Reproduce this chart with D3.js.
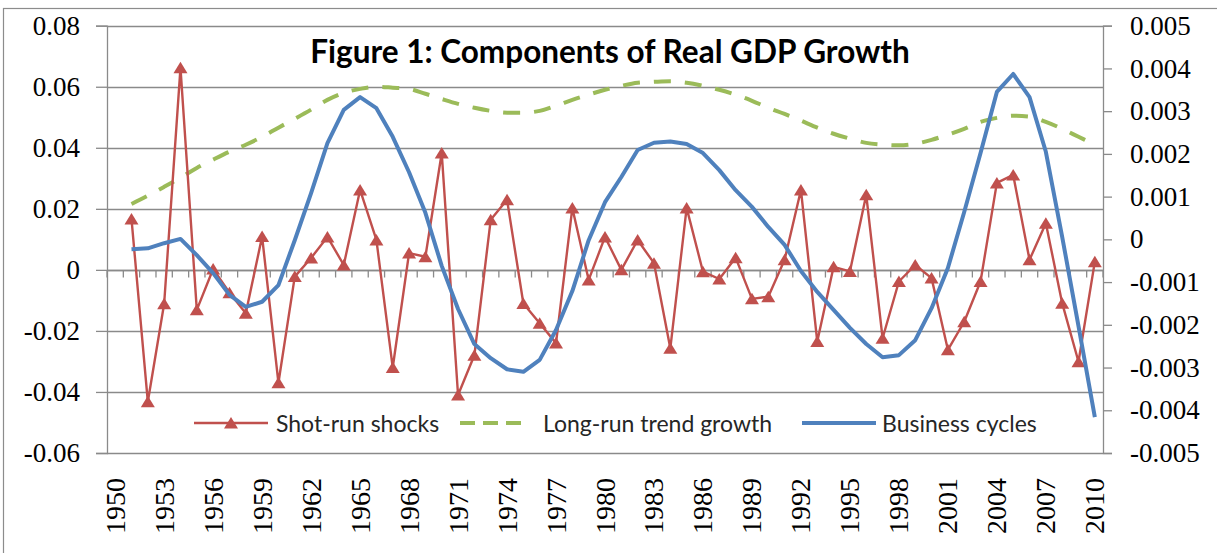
<!DOCTYPE html>
<html>
<head>
<meta charset="utf-8">
<script src="https://cdn.jsdelivr.net/npm/d3@7"></script>
<style>
  html, body { margin: 0; padding: 0; background: #fff; }
  svg { display: block; }
</style>
</head>
<body>
<svg id="chart" width="1217" height="553"></svg>
<script>
// ---------------- DATA ----------------
const categories = ["1950","1951","1952","1953","1954","1955","1956","1957","1958","1959",
  "1960","1961","1962","1963","1964","1965","1966","1967","1968","1969",
  "1970","1971","1972","1973","1974","1975","1976","1977","1978","1979",
  "1980","1981","1982","1983","1984","1985","1986","1987","1988","1989",
  "1990","1991","1992","1993","1994","1995","1996","1997","1998","1999",
  "2000","2001","2002","2003","2004","2005","2006","2007","2008","2009","2010"];

// series start in 1951
const seriesYears = categories.slice(1);

const shortRunShocks = [0.0167, -0.0432, -0.0111, 0.0662, -0.0131, 0.0003, -0.0075, -0.0142, 0.0109, -0.037,
  -0.0022, 0.0039, 0.0108, 0.0016, 0.0262, 0.0098, -0.032, 0.0055, 0.0043, 0.0383,
  -0.041, -0.028, 0.0164, 0.023, -0.011, -0.0175, -0.024, 0.0203, -0.0033, 0.0108,
  0.0, 0.0098, 0.0022, -0.0257, 0.0203, -0.0006, -0.003, 0.004, -0.0095, -0.0088,
  0.0033, 0.0262, -0.0235, 0.001, -0.0005, 0.0246, -0.0224, -0.0038, 0.0016, -0.0027,
  -0.0262, -0.017, -0.0038, 0.0285, 0.0311, 0.0033, 0.0153, -0.0109, -0.0301, 0.0027];

const longRunTrend = [0.0216, 0.0243, 0.0272, 0.0302, 0.0334, 0.0361, 0.0387, 0.041, 0.0436, 0.0466,
  0.0495, 0.0525, 0.0557, 0.058, 0.0593, 0.06, 0.0597, 0.0593, 0.0577, 0.056,
  0.0544, 0.0531, 0.0521, 0.0515, 0.0515, 0.0521, 0.0538, 0.0557, 0.0574, 0.059,
  0.0603, 0.0613, 0.0616, 0.0618, 0.0613, 0.0603, 0.059, 0.0574, 0.0554, 0.0531,
  0.0511, 0.0489, 0.0466, 0.0446, 0.043, 0.0416, 0.041, 0.0408, 0.0413, 0.0426,
  0.0443, 0.0462, 0.0485, 0.0498, 0.0505, 0.0502, 0.0485, 0.0462, 0.0436, 0.041];

const businessCycles = [-0.00023, -0.00021, -0.00009, 0.00001, -0.00037, -0.00079, -0.0013, -0.00158, -0.00146, -0.00107,
  -0.00002, 0.00108, 0.00225, 0.00303, 0.00333, 0.00307, 0.0024, 0.00157, 0.00062, -0.00062,
  -0.00163, -0.00245, -0.00278, -0.00304, -0.0031, -0.00282, -0.00212, -0.00121, -0.00002, 0.00087,
  0.00146, 0.00209, 0.00226, 0.00229, 0.00223, 0.00202, 0.00162, 0.00115, 0.00076, 0.00029,
  -0.00013, -0.00074, -0.00123, -0.00165, -0.00207, -0.00245, -0.00276, -0.00271, -0.00236, -0.00161,
  -0.00067, 0.00064, 0.00202, 0.00345, 0.00387, 0.00333, 0.00205, 0.00006, -0.00203, -0.00416];

const leftTicks = [-0.06, -0.04, -0.02, 0, 0.02, 0.04, 0.06, 0.08];
const rightTicks = [-0.005, -0.004, -0.003, -0.002, -0.001, 0, 0.001, 0.002, 0.003, 0.004, 0.005];
const xLabelYears = ["1950","1953","1956","1959","1962","1965","1968","1971","1974","1977","1980",
  "1983","1986","1989","1992","1995","1998","2001","2004","2007","2010"];

const titleText = "Figure 1: Components of Real GDP Growth";
const legendLabels = ["Shot-run shocks", "Long-run trend growth", "Business cycles"];

// ---------------- LAYOUT ----------------
const svg = d3.select("#chart");
const L = 107, R = 1103, T = 25.7, B = 453;
const gridColor = "#8a8a8a";
const red = "#c0504d", green = "#9bbb59", blue = "#4f81bd";
const serif = "'Liberation Serif', 'Times New Roman', serif";
const sans = "Lato, 'Open Sans', sans-serif";

// outer chart border
svg.append("rect").attr("x", 3.5).attr("y", 8.5).attr("width", 1400).attr("height", 700)
  .attr("fill", "#fff").attr("stroke", "#8c8c8c").attr("stroke-width", 1.2);

const x = d3.scaleBand().domain(categories).range([L, R]).padding(0);
const yL = d3.scaleLinear().domain([-0.06, 0.08]).range([B, T]);
const yR = d3.scaleLinear().domain([-0.005, 0.005]).range([B, T]);
const cx = c => x(c) + x.bandwidth() / 2;

// gridlines
svg.append("g").selectAll("line").data(leftTicks).join("line")
  .attr("x1", L).attr("x2", R)
  .attr("y1", d => Math.round(yL(d)) + 0.5).attr("y2", d => Math.round(yL(d)) + 0.5)
  .attr("stroke", gridColor).attr("stroke-width", 1.3);

// left axis
const axL = svg.append("g").attr("transform", `translate(${L},0)`)
  .call(d3.axisLeft(yL).tickValues(leftTicks).tickSize(11).tickPadding(16)
    .tickFormat(d => d === 0 ? "0" : d.toFixed(2)));
axL.select(".domain").attr("stroke", gridColor).attr("stroke-width", 1.3);
axL.selectAll(".tick line").attr("stroke", gridColor).attr("stroke-width", 1.3);
axL.selectAll(".tick text").attr("font-family", serif).attr("font-size", 27).attr("fill", "#000");

// right axis
const axR = svg.append("g").attr("transform", `translate(${R},0)`)
  .call(d3.axisRight(yR).tickValues(rightTicks).tickSize(9).tickPadding(18)
    .tickFormat(d => Math.abs(d) < 1e-9 ? "0" : d.toFixed(3)));
axR.select(".domain").attr("stroke", gridColor).attr("stroke-width", 1.3);
axR.selectAll(".tick line").attr("stroke", gridColor).attr("stroke-width", 1.3);
axR.selectAll(".tick text").attr("font-family", serif).attr("font-size", 27).attr("fill", "#000");

// category axis at zero with ticks at band boundaries
const y0 = Math.round(yL(0)) + 0.5;
svg.append("line").attr("x1", L).attr("x2", R).attr("y1", y0).attr("y2", y0)
  .attr("stroke", gridColor).attr("stroke-width", 1.3);
const boundaries = categories.map(c => x(c)).concat([x.range()[1]]);
svg.append("g").selectAll("line").data(boundaries).join("line")
  .attr("x1", d => d).attr("x2", d => d).attr("y1", y0).attr("y2", y0 + 7)
  .attr("stroke", gridColor).attr("stroke-width", 1.3);

// x labels (rotated)
svg.append("g").selectAll("text").data(xLabelYears).join("text")
  .attr("transform", d => `translate(${cx(d)},478) rotate(-90)`)
  .attr("text-anchor", "end").attr("dominant-baseline", "central")
  .attr("font-family", serif).attr("font-size", 28).attr("fill", "#000")
  .text(d => d);

// series
const trendData = seriesYears.map((c, i) => ({c, v: longRunTrend[i]}));
const cycleData = seriesYears.map((c, i) => ({c, v: businessCycles[i]}));
const shockData = seriesYears.map((c, i) => ({c, v: shortRunShocks[i]}));

svg.append("path").datum(trendData)
  .attr("d", d3.line().x(d => cx(d.c)).y(d => yL(d.v)).curve(d3.curveMonotoneX))
  .attr("fill", "none").attr("stroke", green).attr("stroke-width", 4)
  .attr("stroke-dasharray", "17,14");

svg.append("path").datum(shockData)
  .attr("d", d3.line().x(d => cx(d.c)).y(d => yL(d.v)))
  .attr("fill", "none").attr("stroke", red).attr("stroke-width", 2.4).attr("stroke-linejoin", "round");

const tri = "M0,-6L7,5.5L-7,5.5Z";
svg.append("g").selectAll("path").data(shockData).join("path")
  .attr("transform", d => `translate(${cx(d.c)},${yL(d.v)})`)
  .attr("d", tri).attr("fill", red);

svg.append("path").datum(cycleData)
  .attr("d", d3.line().x(d => cx(d.c)).y(d => yR(d.v)))
  .attr("fill", "none").attr("stroke", blue).attr("stroke-width", 4).attr("stroke-linejoin", "round");

// title
svg.append("text").attr("x", 610).attr("y", 62.5).attr("text-anchor", "middle")
  .attr("font-family", sans).attr("font-weight", "bold").attr("font-size", 31.5).attr("fill", "#000")
  .text(titleText);

// legend
const ly = 423;
const lfs = 23;
const lg = svg.append("g");
lg.append("line").attr("x1", 194).attr("x2", 268).attr("y1", ly).attr("y2", ly)
  .attr("stroke", red).attr("stroke-width", 2.4);
lg.append("path").attr("transform", `translate(231,${ly})`).attr("d", tri).attr("fill", red);
lg.append("text").attr("x", 276).attr("y", ly).attr("dominant-baseline", "central")
  .attr("font-family", sans).attr("font-size", lfs).attr("fill", "#262626").text(legendLabels[0]);

lg.append("line").attr("x1", 460).attr("x2", 522).attr("y1", ly).attr("y2", ly)
  .attr("stroke", green).attr("stroke-width", 4).attr("stroke-dasharray", "15,8");
lg.append("text").attr("x", 543).attr("y", ly).attr("dominant-baseline", "central")
  .attr("font-family", sans).attr("font-size", lfs).attr("fill", "#262626").text(legendLabels[1]);

lg.append("line").attr("x1", 802).attr("x2", 876).attr("y1", ly).attr("y2", ly)
  .attr("stroke", blue).attr("stroke-width", 4);
lg.append("text").attr("x", 882).attr("y", ly).attr("dominant-baseline", "central")
  .attr("font-family", sans).attr("font-size", lfs).attr("fill", "#262626").text(legendLabels[2]);
</script>
</body>
</html>
